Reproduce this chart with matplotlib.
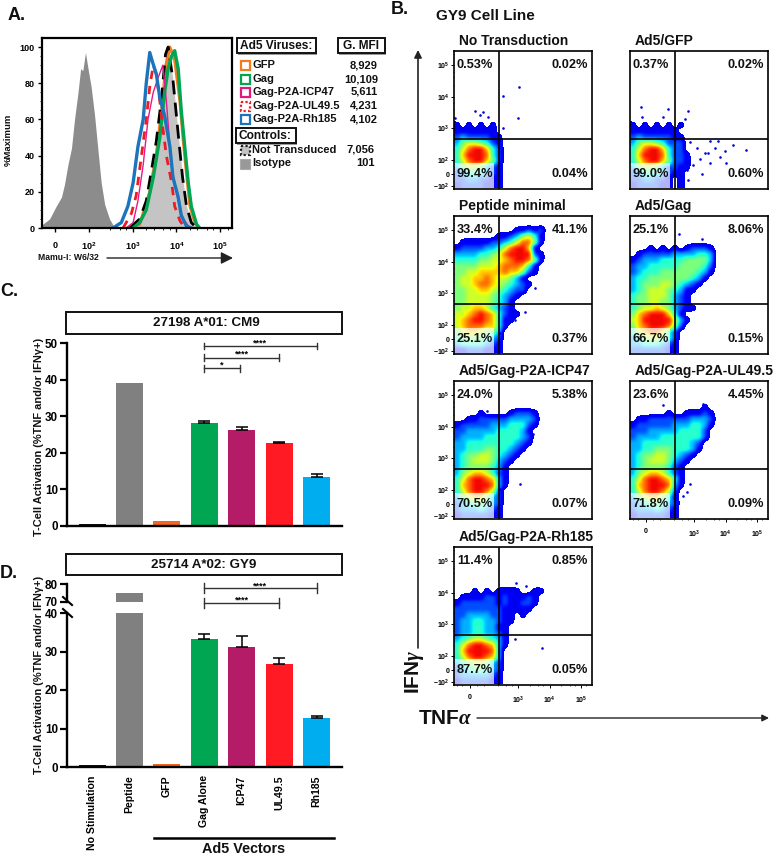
import numpy as np
import matplotlib
matplotlib.use("Agg")
import matplotlib.pyplot as plt
from matplotlib.patches import Rectangle

plt.rcParams['font.family'] = ['Liberation Sans', 'DejaVu Sans']
plt.rcParams['font.weight'] = 'bold'
plt.rcParams['mathtext.fontset'] = 'custom'
plt.rcParams['mathtext.bf'] = 'Liberation Sans:bold'
plt.rcParams['mathtext.rm'] = 'Liberation Sans:bold'
plt.rcParams['mathtext.it'] = 'Liberation Serif:italic'

W, H = 778, 860

# panel A: histograms, x in log10 display units, y in %max
iso_x = [0.91, 1.10, 1.25, 1.37, 1.44, 1.52, 1.60, 1.67, 1.75, 1.81, 1.86, 1.92, 1.98, 2.05, 2.13, 2.21, 2.28, 2.36, 2.47, 2.59]
iso_y = [1.5, 5, 12, 17, 24, 35, 44, 60, 75, 88, 87, 97, 88, 78, 62, 42, 25, 13, 5, 0]
nt_x = [2.93, 3.16, 3.31, 3.43, 3.54, 3.66, 3.75, 3.81, 3.92, 4.04, 4.14, 4.23, 4.34, 4.46]
nt_y = [0, 5, 15, 32, 48, 72, 96, 100, 82, 52, 28, 12, 3, 0]
gfp_x = [3.16, 3.39, 3.54, 3.66, 3.76, 3.85, 3.96, 4.08, 4.15, 4.23, 4.31, 4.42, 4.50]
gfp_y = [2, 20, 40, 65, 90, 100, 93, 70, 50, 30, 12, 3, 0]
gag_x = [3.01, 3.16, 3.31, 3.47, 3.62, 3.73, 3.81, 3.89, 3.96, 4.04, 4.11, 4.19, 4.27, 4.34, 4.46, 4.53]
gag_y = [0, 3, 10, 28, 50, 75, 88, 95, 98, 88, 65, 45, 25, 12, 2, 0]
icp_x = [2.85, 3.01, 3.12, 3.24, 3.35, 3.47, 3.58, 3.69, 3.77, 3.85, 3.92, 4.04, 4.15, 4.31]
icp_y = [0, 3, 15, 35, 60, 75, 83, 90, 70, 45, 30, 15, 5, 0]
ul_x = [2.78, 2.97, 3.08, 3.20, 3.31, 3.39, 3.47, 3.54, 3.62, 3.69, 3.77, 3.89, 3.96, 4.08, 4.19]
ul_y = [0, 8, 18, 40, 60, 78, 90, 85, 70, 55, 40, 25, 12, 4, 0]
rh_x = [2.55, 2.74, 2.89, 3.01, 3.12, 3.24, 3.31, 3.39, 3.45, 3.54, 3.62, 3.73, 3.85, 3.92, 4.04, 4.11, 4.23, 4.34]
rh_y = [0, 3, 12, 25, 45, 60, 80, 97, 92, 85, 72, 62, 45, 28, 17, 7, 1, 0]

legend_names = ['GFP', 'Gag', 'Gag-P2A-ICP47', 'Gag-P2A-UL49.5', 'Gag-P2A-Rh185']
legend_mfi = ['8,929', '10,109', '5,611', '4,231', '4,102']
control_names = ['Not Transduced', 'Isotype']
control_mfi = ['7,056', '101']

# panels C and D
bar_names = ['No Stimulation', 'Peptide', 'GFP', 'Gag Alone', 'ICP47', 'UL49.5', 'Rh185']
bar_colors = ['#111111', '#808080', '#f26522', '#00a651', '#b51c68', '#ff1a24', '#00aeef']
c_vals = [0.6, 39.2, 1.3, 28.2, 26.2, 22.6, 13.3]
c_errs = [0, 0, 0, 0.6, 0.8, 0.3, 1.0]
d_vals = [0.6, 74.8, 0.9, 33.2, 31.2, 26.8, 12.7]
d_errs = [0, 0, 0, 1.3, 2.9, 1.6, 0.5]

# panel B: density levels, top row first ('.' = no cells)
b_titles = ['No Transduction', 'Ad5/GFP', 'Peptide minimal', 'Ad5/Gag',
            'Ad5/Gag-P2A-ICP47', 'Ad5/Gag-P2A-UL49.5', 'Ad5/Gag-P2A-Rh185']
b_pcts = [['0.53%', '0.02%', '99.4%', '0.04%'],
          ['0.37%', '0.02%', '99.0%', '0.60%'],
          ['33.4%', '41.1%', '25.1%', '0.37%'],
          ['25.1%', '8.06%', '66.7%', '0.15%'],
          ['24.0%', '5.38%', '70.5%', '0.07%'],
          ['23.6%', '4.45%', '71.8%', '0.09%'],
          ['11.4%', '0.85%', '87.7%', '0.05%']]
empty = [''] * 12
dens1 = empty + ['1.1.1.1', '1111111', '23222211', '35665421', '46899742', '47999842',
                 '46899752', '35665321', '23444321', '22332211', '12222111']
dens2 = empty + ['1.1.1.1.1', '11111111', '232222211', '356654222', '468997422', '4799984221',
                 '4689975221', '3566532211', '234443211', '2233221.1', '1222211.1']
dens3 = ['', '', '..........11212', '.......11235641', '.11111223468851', '12222334689971',
         '333344568999921', '444455667899851', '55556667888741', '55667777877521',
         '566778766531', '5667887654321', '556677654322', '55666654321', '5566665431',
         '5667764321', '66789874211', '6789987411', '678887741', '56776553', '45555432',
         '34444321', '11222111']
dens4 = ['', '', '', '', '', '...1.1.1.12221', '.1222223333443', '12333444455553',
         '23344444555542', '23444555555431', '3445555555431', '345556654321', '34566654311',
         '4556665321', '4556655321', '45667653211', '578999741', '6799999631', '578999852',
         '46788642', '34566542', '33444321', '22222211']
dens5 = ['', '', '', '', '', '....1....12221', '..112222233332', '12222233344421', '2233333444431',
         '2333344444432', '3344444444321', '334445544321', '34556654321', '3456665321',
         '345555431', '356776421', '468998731', '478999831', '46899862', '35677532',
         '23455432', '23334321', '12222211']
dens6 = ['', '', '', '', '............1', '......1..11121', '.1122222223332', '12222223334431',
         '2223333344442', '2333344444442', '334444444432', '334455544431', '34556654321',
         '3456665321', '345555421', '356776421', '468998741', '478999831', '46899862',
         '35677541', '23455432', '23334321', '12222211']
dens7 = ['', '', '', '', '', '', '', '...1.1.1111..11', '.1111221211121', '12222221211221',
         '2222222211111', '2233332211.1', '2334433211', '233443311', '233443321', '345665431',
         '468998731', '47999983', '46899873', '34566532', '23455432', '23333321', '12222211']
b_dens = [dens1, dens2, dens3, dens4, dens5, dens6, dens7]

# lone events outside the dense clouds, as fraction of the plot
out1 = [(.472, .735), (.354, .675), (.467, .515), (.153, .566), (.213, .558), (.249, .522), (.189, .534),
        (.104, .473), (.007, .51), (.358, .437), (.346, .267)]
out2 = [(.077, .59), (.278, .575), (.424, .566), (.4, .502), (.363, .478), (.085, .522), (.242, .522), (.206, .461),
        (.581, .347), (.642, .347), (.751, .316), (.84, .279), (.69, .274), (.654, .231), (.697, .187), (.581, .182),
        (.521, .104), (.424, .061), (.363, .109), (.545, .255), (.484, .291), (.617, .291), (.46, .17), (.569, .255),
        (.436, .34), (.508, .218), (.412, .133)]
out3 = [(.516, .299), (.443, .243), (.588, .473), (.334, .148)]
out4 = [(.358, .871), (.521, .83), (.169, .752)]
out5 = [(.189, .776), (.242, .779), (.479, .248), (.334, .216), (.6, .694), (.576, .617)]
out6 = [(.237, .828), (.533, .835), (.436, .248), (.383, .167), (.416, .191)]
out7 = [(.642, .262), (.45, .735), (.523, .716), (.443, .328)]
b_out = [out1, out2, out3, out4, out5, out6, out7]

fig = plt.figure(figsize=(W / 100, H / 100), dpi=100)


def ax_px(x0, y0, x1, y1):
    return fig.add_axes([x0 / W, 1 - y1 / H, (x1 - x0) / W, (y1 - y0) / H])


# overlay in pixel coordinates for boxes, labels, arrows
bg = fig.add_axes([0, 0, 1, 1])
bg.set_xlim(0, W)
bg.set_ylim(H, 0)
bg.axis('off')
bg.set_zorder(10)
bg.patch.set_visible(False)


def txt(x, y, s, size=8, ha='left', va='center', **kw):
    bg.text(x, y, s, fontsize=size, ha=ha, va=va, color='#111111', **kw)


def box(x0, y0, x1, y1, shadow=True):
    if shadow:
        bg.add_patch(Rectangle((x0 + 1.5, y0 + 1.5), x1 - x0, y1 - y0, fc='#999999', ec='none'))
    bg.add_patch(Rectangle((x0, y0), x1 - x0, y1 - y0, fc='white', ec='#111111', lw=1.4))


def arrow(x0, y0, x1, y1, lw=1.0, scale=14):
    bg.annotate('', xy=(x1, y1), xytext=(x0, y0),
                arrowprops=dict(arrowstyle='-|>', color='#222222', lw=lw, mutation_scale=scale, shrinkA=0, shrinkB=0))


def soften(rows, f=6, k=5):
    # blow the typed levels up to pixels and round the block edges
    grid = np.array([[0.0 if c == '.' else float(c) for c in r.ljust(23, '.')] for r in rows])
    img = np.pad(np.kron(grid, np.ones((f, f))), 2 * k, mode='edge')
    kern = np.ones(k) / k
    for _ in range(2):
        img = np.apply_along_axis(lambda v: np.convolve(v, kern, mode='same'), 0, img)
        img = np.apply_along_axis(lambda v: np.convolve(v, kern, mode='same'), 1, img)
    img = img[2 * k:-2 * k, 2 * k:-2 * k]
    return np.ma.masked_less(np.where(img < 0.4, 0, np.maximum(img, 1.0)), 0.4)


# ---- A ----
axA = ax_px(41.7, 38, 232, 228)
axA.set_xlim(0.92, 5.27)
axA.set_ylim(0, 105)
axA.fill_between(iso_x, iso_y, color='#8c8c8c', lw=0)
axA.fill_between(nt_x, nt_y, color='#c4c4c4', lw=0)
axA.plot(gfp_x, gfp_y, color='#f47b20', lw=2.2)
axA.plot(nt_x, nt_y, color='black', lw=2.0, ls=(0, (5, 3)))
axA.plot(gag_x, gag_y, color='#00a651', lw=2.4)
axA.plot(icp_x, icp_y, color='#e6198a', lw=1.0)
axA.plot(ul_x, ul_y, color='#ed1c24', lw=2.0, ls=(0, (3, 2.5)))
axA.plot(rh_x, rh_y, color='#1b75bc', lw=2.4)
for s in axA.spines.values():
    s.set_linewidth(1.6)
axA.set_yticks([0, 20, 40, 60, 80, 100])
axA.set_yticks(np.arange(0, 101, 5), minor=True)
axA.set_xticks([1.22, 2, 3, 4, 5])
axA.set_xticklabels(['0', r'$\mathbf{10^{2}}$', r'$\mathbf{10^{3}}$', r'$\mathbf{10^{4}}$', r'$\mathbf{10^{5}}$'])
axA.set_xticks(np.log10([300, 500, 700, 2000, 3000, 5000, 7000, 20000, 30000, 50000, 70000, 150000]), minor=True)
axA.tick_params(axis='both', labelsize=6.5, length=3, width=1, pad=2)
axA.tick_params(axis='x', pad=6)
axA.tick_params(which='minor', length=1.5, width=0.6)

txt(8, 15, 'A.', 13)
txt(8, 140, '%Maximum', 6.8, ha='center', rotation=90)
txt(38, 258, 'Mamu-I: W6/32', 6.2)
arrow(107, 258, 233, 258, scale=18)

box(237, 38, 316, 53)
txt(240, 46, 'Ad5 Viruses:', 8.6)
box(338, 38, 385, 53)
txt(361.5, 46, 'G. MFI', 8.6, ha='center')
swatch_colors = ['#f47b20', '#00a651', '#e6197a', '#ed1c24', '#1b75bc']
for i, (nm, v, col) in enumerate(zip(legend_names, legend_mfi, swatch_colors)):
    y = [65, 79, 92, 106, 119][i]
    bg.add_patch(Rectangle((241, y - 4.5), 9, 9, fc='white', ec=col, lw=1.6,
                           ls=(0, (1, 1)) if i == 3 else '-'))
    txt(253, y, nm, 8)
    txt(378, y, v, 8, ha='right')
box(236, 128, 296, 143)
txt(239, 136, 'Controls:', 8.6)
bg.add_patch(Rectangle((241, 146), 9, 9, fc='#c4c4c4', ec='#222222', lw=1.6, ls=(0, (1, 1))))
txt(252, 150, control_names[0], 8)
txt(375, 150, control_mfi[0], 8, ha='right')
bg.add_patch(Rectangle((240, 159), 10, 10, fc='#999999', ec='#aaaaaa', lw=0.8))
txt(252, 163, control_names[1], 8)
txt(375, 163, control_mfi[1], 8, ha='right')


# ---- C and D ----
def style_bar_axis(ax):
    ax.set_xlim(-0.67, 6.68)
    ax.spines['top'].set_visible(False)
    ax.spines['right'].set_visible(False)
    ax.spines['left'].set_linewidth(1.7)
    ax.spines['bottom'].set_linewidth(1.7)
    ax.tick_params(axis='y', labelsize=8.4, length=5, width=1.6, pad=1.5)


def sig_bar(ax, x0, x1, y, stars):
    ax.plot([x0, x1], [y, y], color='#333333', lw=1.0, clip_on=False)
    for x in (x0, x1):
        ax.plot([x, x], [y - ax.sig_cap, y + ax.sig_cap], color='#333333', lw=1.0, clip_on=False)
    ax.text((x0 + x1) / 2, y - ax.sig_cap * 0.4, stars, ha='center', va='bottom', fontsize=6.5, clip_on=False)


axC = ax_px(67, 343, 342, 526)
style_bar_axis(axC)
axC.set_ylim(0, 50)
axC.bar(range(7), c_vals, width=0.72, color=bar_colors)
axC.errorbar([3, 4, 5, 6], c_vals[3:], yerr=[[0] * 4, c_errs[3:]], fmt='none', ecolor='black', elinewidth=1.1, capsize=4.5, capthick=1.1)
axC.set_xticks([])
axC.set_yticks([0, 10, 20, 30, 40, 50])
axC.sig_cap = 0.9
sig_bar(axC, 3, 6, 49.2, '****')
sig_bar(axC, 3, 5, 46, '****')
sig_bar(axC, 3, 3.95, 43.1, '*')

axD = ax_px(67, 613, 342, 767)
axD_top = ax_px(67, 584.3, 342, 601.7)
for ax in (axD, axD_top):
    style_bar_axis(ax)
    ax.bar(range(7), d_vals, width=0.72, color=bar_colors)
axD.set_ylim(0, 40)
axD_top.set_ylim(70, 80)
axD_top.spines['bottom'].set_visible(False)
axD.errorbar([3, 4, 5, 6], d_vals[3:], yerr=[[0] * 4, d_errs[3:]], fmt='none', ecolor='black', elinewidth=1.1, capsize=4.5, capthick=1.1)
axD.set_yticks([0, 10, 20, 30, 40])
axD_top.set_yticks([70, 80])
axD_top.set_xticks([])
axD_top.patch.set_visible(False)
axD.set_xticks(range(7))
axD.set_xticklabels(bar_names, rotation=90, fontsize=7.6)
axD.tick_params(axis='x', length=0, pad=6)
axD_top.sig_cap = 2.9
sig_bar(axD_top, 3, 6, 77.7, '****')
sig_bar(axD_top, 3, 5, 69.4, '****')

txt(0, 291, 'C.', 13)
txt(0, 573, 'D.', 13)
box(66, 312, 342, 334, shadow=False)
txt(206, 323, '27198 A*01: CM9', 9.6, ha='center')
box(66, 554, 342, 575, shadow=False)
txt(204, 565, '25714 A*02: GY9', 9.6, ha='center')
txt(39, 437, 'T-Cell Activation (%TNF and/or IFNγ+)', 7.9, ha='center', rotation=90)
txt(39, 675, 'T-Cell Activation (%TNF and/or IFNγ+)', 7.9, ha='center', rotation=90)
for y in (601, 613):
    bg.plot([63, 72], [y - 4, y + 4], color='black', lw=1.5)
bg.plot([154, 334], [838, 838], color='black', lw=1.8)
txt(244, 849, 'Ad5 Vectors', 10.4, ha='center')

# ---- B ----
b_pos = [(454, 51), (630, 51), (454, 216), (630, 216), (454, 381), (630, 381), (454, 547)]
b_size = 137.5
y_ticks_b = [.017, .102, .204, .438, .667, .898]
y_labels_b = [r'$\mathbf{-10^{2}}$', '0', r'$\mathbf{10^{2}}$', r'$\mathbf{10^{3}}$', r'$\mathbf{10^{4}}$', r'$\mathbf{10^{5}}$']
x_ticks_b = [.116, .465, .695, .925]
x_labels_b = ['0', r'$\mathbf{10^{3}}$', r'$\mathbf{10^{4}}$', r'$\mathbf{10^{5}}$']
y_minor_b = [.29, .35, .39, .52, .58, .62, .75, .81, .85, .95, .98]
x_minor_b = [.02, .06, .17, .22, .32, .38, .42, .55, .61, .65, .78, .84, .88, .96]
cmap = plt.get_cmap('jet').copy()
cmap.set_bad((1, 1, 1, 0))
for i, (x0, y0) in enumerate(b_pos):
    ax = ax_px(x0, y0, x0 + b_size, y0 + b_size)
    ax.imshow(soften(b_dens[i]), cmap=cmap, vmin=0, vmax=10, extent=[0, 1, 0, 1], aspect='auto', interpolation='nearest')
    px, py = zip(*b_out[i])
    ax.scatter(px, py, s=3.5, color='#0000e0', lw=0)
    ax.add_patch(Rectangle((0, 0), 0.29, 0.185, fc='white', alpha=0.7, ec='none'))
    ax.axvline(0.326, color='black', lw=1.2)
    ax.axhline(0.357, color='black', lw=1.2)
    ax.set_xlim(0, 1)
    ax.set_ylim(0, 1)
    for s in ax.spines.values():
        s.set_linewidth(1.2)
    ax.tick_params(labelsize=5, length=2, width=0.7, pad=1.5)
    ax.tick_params(which='minor', length=1, width=0.5)
    if i % 2 == 0:
        ax.set_yticks(y_ticks_b)
        ax.set_yticklabels(y_labels_b)
        ax.set_yticks(y_minor_b, minor=True)
    else:
        ax.set_yticks([])
    if i >= 5:
        ax.set_xticks(x_ticks_b)
        ax.set_xticklabels(x_labels_b)
        ax.set_xticks(x_minor_b, minor=True)
        ax.tick_params(axis='x', pad=5)
    else:
        ax.set_xticks([])
    ul, ur, ll, lr = b_pcts[i]
    txt(x0 + 3, y0 + 14, ul, 9.2)
    txt(x0 + 134, y0 + 14, ur, 9.2, ha='right')
    txt(x0 + 3, y0 + 123, ll, 9.2)
    txt(x0 + 134, y0 + 123, lr, 9.2, ha='right')
    txt(x0 + 5, y0 - 10, b_titles[i], 10)

txt(391, 9, 'B.', 13)
txt(436, 16, 'GY9 Cell Line', 11)
txt(415, 672, r'$\mathbf{IFN}\gamma$', 15, ha='center', rotation=90)
arrow(418, 648, 418, 50, lw=1.2, scale=11)
txt(418, 718, r'$\mathbf{TNF}\alpha$', 15)
arrow(477, 718, 769, 718, lw=1.0, scale=10)

fig.savefig('out.png', dpi=100)
